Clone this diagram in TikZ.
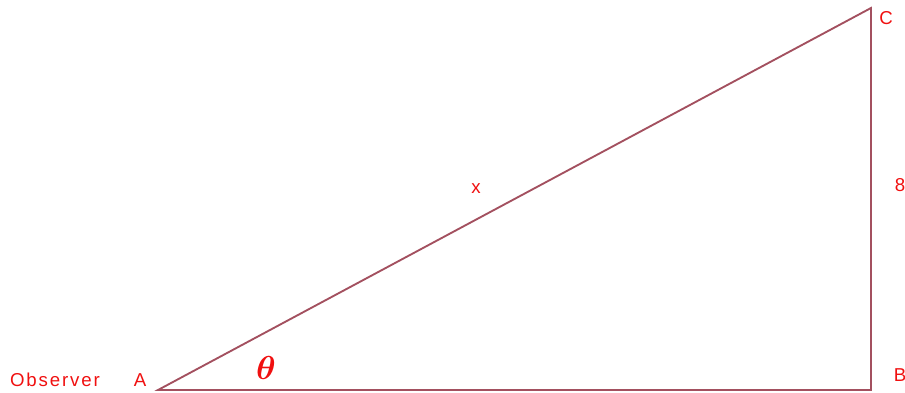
\documentclass[tikz,border=0pt]{standalone}
\usepackage{fontspec}
\setmainfont{Liberation Sans}
\usetikzlibrary{positioning}
\definecolor{sideLine}{HTML}{A3505F}
\definecolor{labelRed}{HTML}{F01010}
\tikzset{
  side/.style={draw=sideLine, line width=1.4pt},
  lbl/.style={text=labelRed, font=\fontsize{14}{16}\selectfont, inner sep=0pt},
}
\begin{document}
\begin{tikzpicture}[x=0.75pt, y=0.75pt]
    \useasboundingbox (0,0) rectangle (905,392);
    % corners of the triangle
    \coordinate (A) at (158,2);
    \coordinate (B) at (871,2);
    \coordinate (C) at (871,384);
    \draw[side] (A) -- (B) -- (C) -- cycle;
    % labels
    \node[lbl] (lA) at (140,12) {A};
    \node[lbl, left=25pt of lA] (obs)
      {O\kern1.4pt b\kern1.4pt s\kern1.4pt e\kern1.4pt r\kern1.4pt v\kern1.4pt e\kern1.4pt r};
    \node[lbl] (lB) at (900,17) {B};
    \node[lbl] (lC) at (886,374) {C};
    \node[lbl] (side8) at (900,207) {8};
    \node[lbl] (hyp) at (476,203) {x};
    \node[text=labelRed, font=\fontsize{26}{28}\selectfont\boldmath, inner sep=0pt]
      (theta) at (266,24) {$\theta$};
\end{tikzpicture}
\end{document}
